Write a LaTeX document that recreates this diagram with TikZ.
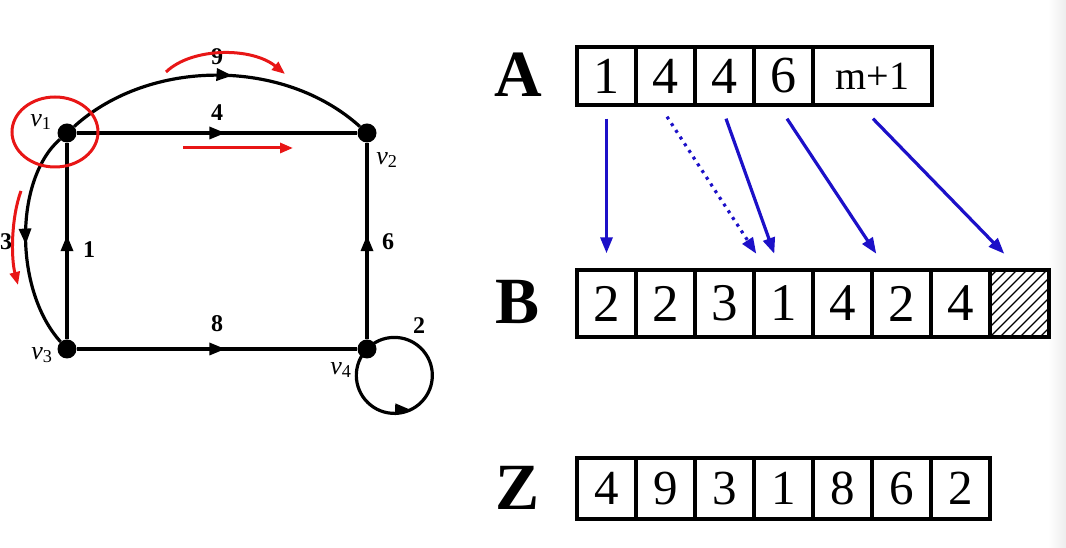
\documentclass[tikz,border=0pt]{standalone}
\usepackage{fontspec}
\setmainfont{Liberation Serif}
\usetikzlibrary{arrows.meta,decorations.markings,backgrounds,calc}
\definecolor{myred}{RGB}{232,22,22}
\definecolor{myblue}{RGB}{28,16,200}
\begin{document}
\begin{tikzpicture}[x=1pt,y=1pt,
  dot/.style={circle,fill=black,minimum size=19pt,inner sep=0pt},
  edge/.style={line width=3.2pt},
  midarrow/.style={postaction={decorate},decoration={markings,mark=at position #1 with {\arrow{Triangle[length=16pt,width=12pt]}}}},
  looparrow/.style={postaction={decorate},decoration={markings,mark=at position #1 with {\fill[rotate=-27] (-15pt,-6pt) -- (1pt,0pt) -- (-15pt,6pt) -- cycle;}}},
  wlab/.style={font=\fontsize{24}{24}\selectfont\bfseries},
  vlab/.style={font=\fontsize{26}{26}\selectfont},
  redarrow/.style={draw=myred,line width=3pt,-{Triangle[length=13pt,width=10pt]}},
  bluearrow/.style={draw=myblue,line width=3.2pt,-{Triangle[length=16pt,width=12pt]}},
  bigletter/.style={font=\fontsize{66}{66}\selectfont\bfseries},
  cellbase/.style={draw,line width=3.4pt,inner sep=0pt,minimum width=59pt},
  acell/.style={cellbase,minimum height=58pt,font=\fontsize{52}{52}\selectfont},
  bcell/.style={cellbase,minimum height=67pt,font=\fontsize{53}{53}\selectfont},
  zcell/.style={cellbase,minimum height=61pt,font=\fontsize{49}{49}\selectfont}
]
\useasboundingbox (0,0) rectangle (1066,548);
\shade[left color=white,right color=black!7] (1048,0) rectangle (1066,548);

% ---------- graph ----------
\node[dot] (v1) at (67,415) {};
\node[dot] (v2) at (367,415) {};
\node[dot] (v3) at (67,199) {};
\node[dot] (v4) at (367,199) {};

\begin{scope}[on background layer]
  \draw[edge,midarrow=0.55] (v1) .. controls (150,490) and (284,490) .. (v2);
  \draw[edge,midarrow=0.53] (v1) -- (v2);
  \draw[edge,midarrow=0.52] (v1) .. controls (14,368) and (14,258) .. (v3);
  \draw[edge,midarrow=0.53] (v3) -- (v1);
  \draw[edge,midarrow=0.53] (v4) -- (v2);
  \draw[edge,midarrow=0.53] (v3) -- (v4);
  \draw[edge,looparrow=0.44] (v4.center) arc[start angle=136,end angle=496,radius=38];
\end{scope}

\node[wlab] (w9) at (217,491) {9};
\node[wlab] (w4) at (217,435) {4};
\node[wlab] (w3) at (6,306) {3};
\node[wlab] (w1) at (89,298) {1};
\node[wlab] (w6) at (388,306) {6};
\node[wlab] (w8) at (217,224) {8};
\node[wlab] (w2) at (419,222) {2};

\node[vlab] (l1) at (41,426) {\textit{v}\textsubscript{1}};
\node[vlab] (l2) at (387,388) {\textit{v}\textsubscript{2}};
\node[vlab] (l3) at (42,193) {\textit{v}\textsubscript{3}};
\node[vlab] (l4) at (341,178) {\textit{v}\textsubscript{4}};

% red annotations
\draw[myred,line width=3pt] (55,416) ellipse[x radius=43,y radius=35];
\coordinate (r1s) at (166,476);
\coordinate (r1e) at (285,474);
\draw[redarrow] (r1s) .. controls (192,501) and (252,501) .. (r1e);
\coordinate (r2s) at (183,400);
\coordinate (r2e) at (293,400);
\draw[redarrow] (r2s) -- (r2e);
\coordinate (r3s) at (21,357);
\coordinate (r3e) at (18,263);
\draw[redarrow] (r3s) .. controls (11,330) and (11,290) .. (r3e);

% ---------- arrays ----------
\node[bigletter] (LA) at (518,473) {A};
\node[bigletter] (LB) at (518,246) {B};
\node[bigletter] (LZ) at (518,60) {Z};

\foreach \v [count=\i] in {1,4,4,6}
  \node[acell] (a\i) at (577+59*\i-29.5,472) {\v};
\node[acell,minimum width=119pt,font=\fontsize{40}{40}\selectfont] (a5) at (872.5,472) {m+1};

\foreach \v [count=\i] in {2,2,3,1,4,2,4}
  \node[bcell] (b\i) at (577+59*\i-29.5,244.5) {\v};
\node[bcell] (b8) at (1019.5,244.5) {};
\begin{scope}[on background layer]
  \clip (b8.south west) rectangle (b8.north east);
  \foreach \k in {-80,-70,...,70}
    \draw[line width=1.1pt] ($(b8.south west)+(\k,0)$) -- ++(80,80);
\end{scope}

\foreach \v [count=\i] in {4,9,3,1,8,6,2}
  \node[zcell] (z\i) at (577+59*\i-29.5,59.5) {\v};

% blue arrows
\draw[bluearrow] ($(a1.south)+(0,-12)$) -- ($(b1.north)+(0,15)$);
\draw[bluearrow,dash pattern=on 3pt off 5pt] ($(a2.south)+(1.5,-10)$) -- ($(b4.north west)+(4,14.5)$);
\draw[bluearrow] ($(a3.south)+(1.5,-12)$) -- ($(b4.north west)+(22,14.5)$);
\draw[bluearrow] ($(a4.south)+(3.5,-12)$) -- ($(b6.north west)+(6,14.5)$);
\draw[bluearrow] ($(a5.south)+(0.5,-12)$) -- ($(b8.north west)+(16,14.5)$);
\end{tikzpicture}
\end{document}
